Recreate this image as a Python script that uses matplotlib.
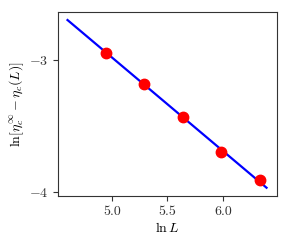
import numpy as np
import matplotlib
matplotlib.use('Agg')
import matplotlib.pyplot as plt

# data
ln_L = [4.946, 5.288, 5.637, 5.985, 6.331]
ln_gap = [-2.942, -3.180, -3.429, -3.698, -3.913]

# linear fit drawn through the points (endpoints of the line)
fit_x = [4.60, 6.394]
fit_y = [-2.693, -3.970]

plt.rcParams['font.family'] = 'serif'
plt.rcParams['font.serif'] = ['cmr10']
plt.rcParams['mathtext.fontset'] = 'cm'
plt.rcParams['axes.formatter.use_mathtext'] = True
plt.rcParams['font.size'] = 10

fig = plt.figure(figsize=(2.91, 2.45), dpi=100)
ax = fig.add_axes([0.200, 0.200, 0.751, 0.752])

ax.plot(fit_x, fit_y, color='blue', lw=1.6, zorder=2)
ax.plot(ln_L, ln_gap, 'o', color='red', ms=7.5, zorder=3)

ax.set_xlim(4.516, 6.486)
ax.set_ylim(-4.033, -2.63)
ax.set_xticks([5.0, 5.5, 6.0])
ax.set_xticklabels(['5.0', '5.5', '6.0'])
ax.set_yticks([-3, -4])
ax.set_yticklabels([r'$-3$', r'$-4$'])

ax.set_xlabel(r'$\ln L$', labelpad=2)
ax.set_ylabel(r'$\ln[\eta_c^\infty - \eta_c(L)]$', labelpad=2)

for s in ax.spines.values():
    s.set_color('0.2')
ax.tick_params(colors='0.2', labelcolor='0.2', length=3.5)

fig.savefig('out.png', dpi=100)
